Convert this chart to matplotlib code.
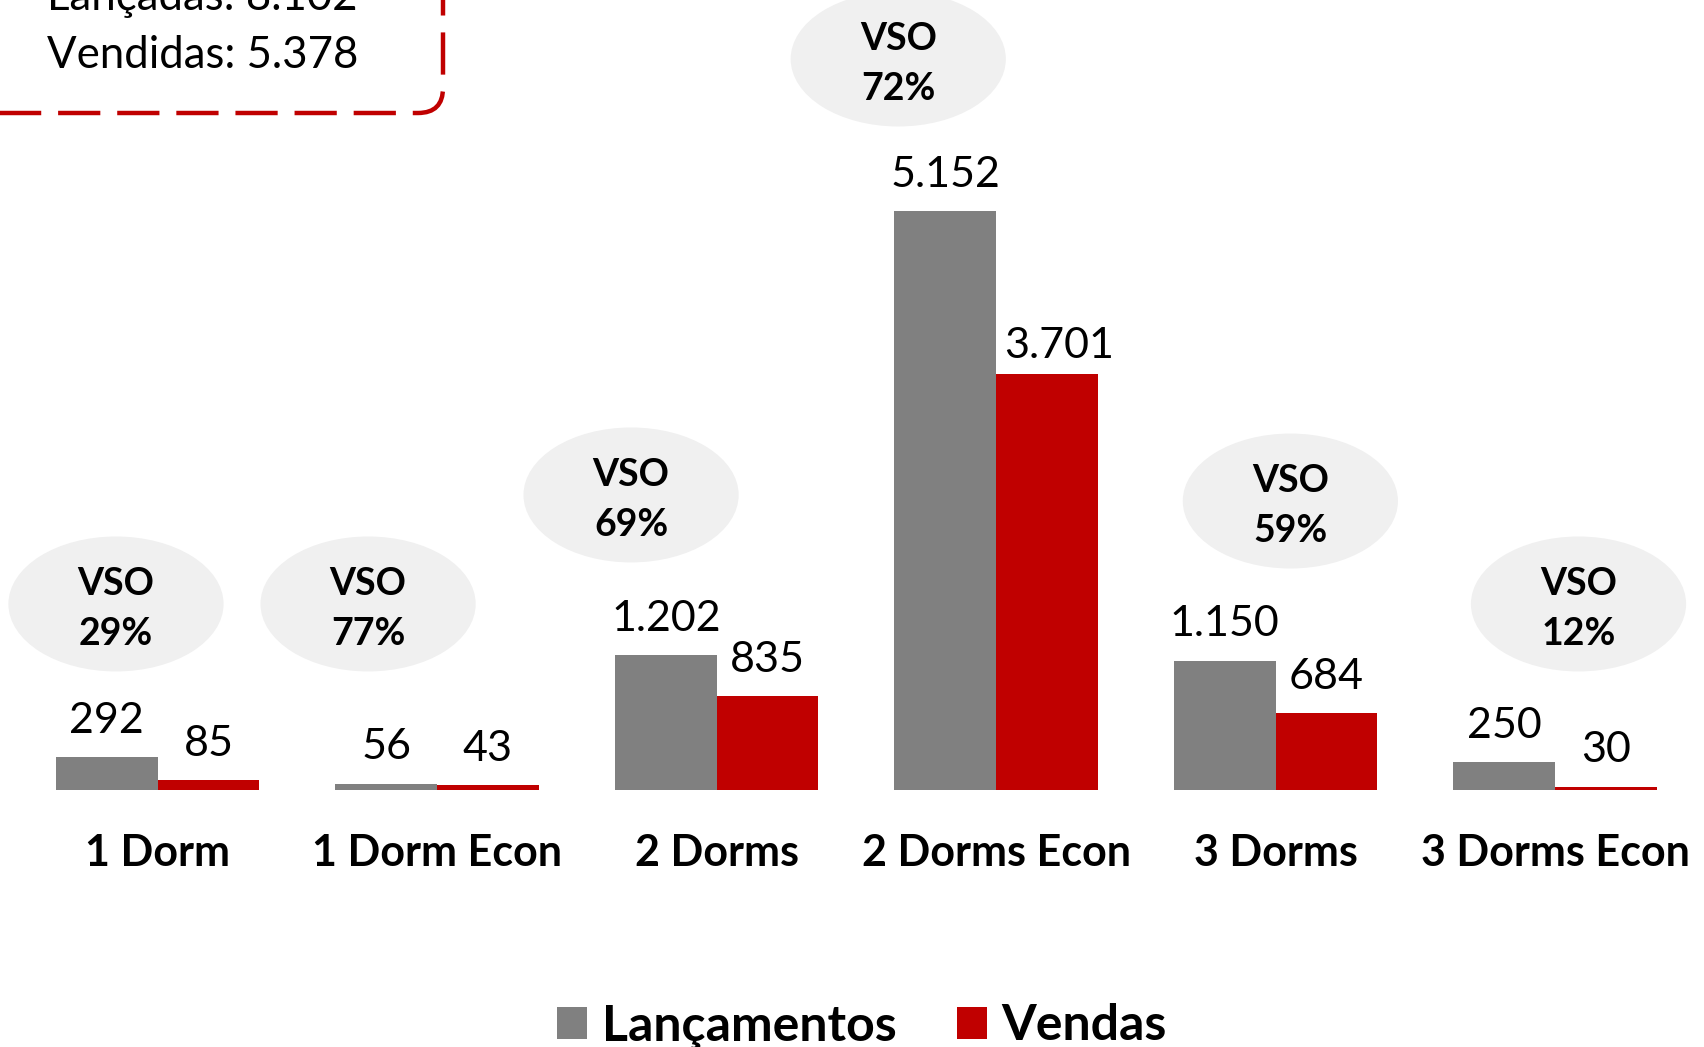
import matplotlib
matplotlib.use("Agg")
import matplotlib.pyplot as plt
from matplotlib.patches import Ellipse, FancyBboxPatch, Patch
from matplotlib.transforms import IdentityTransform
import numpy as np

# data
categories = ["1 Dorm", "1 Dorm Econ", "2 Dorms", "2 Dorms Econ", "3 Dorms", "3 Dorms Econ"]
lancamentos = [292, 56, 1202, 5152, 1150, 250]
vendas = [85, 43, 835, 3701, 684, 30]
vso = ["29%", "77%", "69%", "72%", "59%", "12%"]
total_lancadas = "8.102"
total_vendidas = "5.378"

# layout of the VSO bubbles (x offset from group, y in data units)
bubble_dx = [-0.149, -0.247, -0.306, -0.35, 0.053, 0.084]
bubble_y = [1655, 1655, 2625, 6504, 2571, 1655]

GRAY = "#808080"
RED = "#c00000"
BUBBLE = "#f0f0f0"
FONT = "Lato"

plt.rcParams['font.family'] = [FONT, 'DejaVu Sans']

fig = plt.figure(figsize=(17.04, 10.47), dpi=100)
ax = fig.add_axes([0, 0, 1, 1])
ax.set_xlim(-0.564, 5.533)
ax.set_ylim(-2287, 7029)
ax.axis("off")

x = np.arange(len(categories))
w = 0.3636

bars_l = ax.bar(x - w / 2, lancamentos, w, color=GRAY, label="Lançamentos")
bars_v = ax.bar(x + w / 2, vendas, w, color=RED, label="Vendas")

#value labels above bars (the 3.701 label sits a bit off in the original)
nudge = {(1, 3): (9, -6)}
for s, (bars, vals) in enumerate([(bars_l, lancamentos), (bars_v, vendas)]):
    for i, (b, v) in enumerate(zip(bars, vals)):
        txt = f"{v:,}".replace(",", ".")
        dx, dy = nudge.get((s, i), (0, 0))
        ax.annotate(txt, (b.get_x() + b.get_width() / 2, b.get_height()),
                    xytext=(dx, 17.5 + dy), textcoords="offset points",
                    ha="center", va="baseline", fontsize=31)

#category names under the bars
for i, c in enumerate(categories):
    ax.text(i, -565, c, ha="center", va="center", fontsize=31, fontweight="bold")

#VSO bubbles
for i in range(len(categories)):
    cx = i + bubble_dx[i]
    cy = bubble_y[i]
    ax.add_patch(Ellipse((cx, cy), 0.77, 1201, facecolor=BUBBLE, edgecolor="none", zorder=0))
    ax.annotate("VSO", (cx, cy), xytext=(0, 14.5), textcoords="offset points",
                ha="center", va="center", fontsize=27, fontweight="bold")
    ax.annotate(vso[i], (cx, cy), xytext=(0, -21.5), textcoords="offset points",
                ha="center", va="center", fontsize=27, fontweight="bold")

#dashed totals box in the corner (pixel coords)
box = FancyBboxPatch((-60, 934), 503, 200, boxstyle="round,pad=0,rounding_size=25",
                     transform=IdentityTransform(), facecolor="none", edgecolor=RED,
                     linewidth=3.2, linestyle=(0, (9.5, 3.8)))
fig.patches.append(box)
fig.text(47 / 1704, 1 - 10 / 1047, "Lançadas: " + total_lancadas, ha="left", va="baseline", fontsize=31.5)
fig.text(47 / 1704, 1 - 68 / 1047, "Vendidas: " + total_vendidas, ha="left", va="baseline", fontsize=31.5)

#legend at the bottom
handles = [Patch(facecolor=GRAY), Patch(facecolor=RED)]
fig.legend(handles, ["Lançamentos", "Vendas"], loc="center", ncol=2,
           bbox_to_anchor=(862 / 1704, 1 - 1026 / 1047), frameon=False,
           prop={"family": FONT, "weight": "bold", "size": 36},
           handlelength=0.6, handleheight=0.6, handletextpad=0.3,
           columnspacing=1.2, borderpad=0)

fig.savefig("out.png", dpi=100)
